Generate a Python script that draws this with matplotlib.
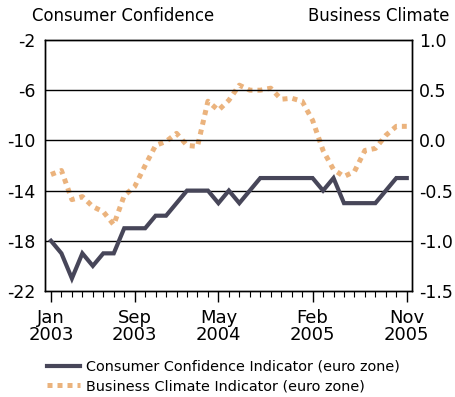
import matplotlib
matplotlib.use("Agg")
import matplotlib.pyplot as plt
from matplotlib.ticker import FixedLocator, MultipleLocator

# Monthly observations, Jan 2003 .. Nov 2005
months = list(range(35))
consumer = [-18, -19, -21, -19, -20, -19, -19, -17, -17, -17, -16, -16,
            -15, -14, -14, -14, -15, -14, -15, -14, -13, -13, -13, -13,
            -13, -13, -14, -13, -15, -15, -15, -15, -14, -13, -13]
business = [-0.34, -0.30, -0.59, -0.56, -0.66, -0.71, -0.84, -0.55, -0.46, -0.25,
            -0.05, -0.01, 0.07, -0.05, -0.06, 0.39, 0.30, 0.40, 0.55, 0.50,
            0.50, 0.52, 0.41, 0.42, 0.39, 0.20, -0.10, -0.29, -0.36, -0.31,
            -0.10, -0.08, 0.05, 0.14, 0.14]

x_tick_pos = [0, 8, 16, 25, 34]
x_tick_labels = ["Jan\n2003", "Sep\n2003", "May\n2004", "Feb\n2005", "Nov\n2005"]
left_ticks = [-2, -6, -10, -14, -18, -22]
right_ticks = [1.0, 0.5, 0.0, -0.5, -1.0, -1.5]

dark = "#474659"
orange = "#EBB37D"
fs_y = 12.5
fs_x = 13
fs_title = 11.9

plt.rcParams["font.family"] = ["DejaVu Sans"]

fig = plt.figure(figsize=(4.56, 3.97), dpi=100)
ax = fig.add_axes([45 / 456, 1 - 291 / 397, 367 / 456, 251 / 397])
ax2 = ax.twinx()

ax.set_xlim(-0.57, 34.5)
ax.set_ylim(-22, -2)
ax2.set_ylim(-1.5, 1.0)

for y in left_ticks[1:-1]:
    ax.axhline(y, color="black", lw=1.0, zorder=1)

ax.plot(months, consumer, color=dark, lw=3.0, solid_joinstyle="miter", zorder=3,
        label="Consumer Confidence Indicator (euro zone)")
ax2.plot(months, business, color=orange, lw=3.6, linestyle=(0, (1, 1)),
         dash_capstyle="butt", zorder=2,
         label="Business Climate Indicator (euro zone)")

ax.set_zorder(ax2.get_zorder() + 1)
ax.patch.set_visible(False)

ax.set_yticks(left_ticks)
ax.set_yticklabels([str(v) for v in left_ticks], fontsize=fs_y)
ax2.set_yticks(right_ticks)
ax2.set_yticklabels([f"{v:.1f}" for v in right_ticks], fontsize=fs_y)
ax.tick_params(axis="y", length=0, pad=7)
ax2.tick_params(axis="y", length=0, pad=5)

ax.xaxis.set_major_locator(FixedLocator(x_tick_pos))
ax.xaxis.set_minor_locator(MultipleLocator(1))
ax.set_xticklabels(x_tick_labels, fontsize=fs_x, linespacing=0.9)
ax.tick_params(axis="x", which="major", direction="out", length=8, width=1.0, pad=5)
ax.tick_params(axis="x", which="minor", direction="out", length=4, width=0.8)

for a in (ax, ax2):
    for s in a.spines.values():
        s.set_color("black")
        s.set_linewidth(1.0)

fig.text(32 / 456, 1 - 21 / 397, "Consumer Confidence", fontsize=fs_title, ha="left", va="baseline")
fig.text(449 / 456, 1 - 21 / 397, "Business Climate", fontsize=fs_title, ha="right", va="baseline")

h1, l1 = ax.get_legend_handles_labels()
h2, l2 = ax2.get_legend_handles_labels()
fig.legend(h1 + h2, l1 + l2, loc="upper left", bbox_to_anchor=(47 / 456, 1 - 360 / 397),
           frameon=False, fontsize=10.4, handlelength=2.3, handletextpad=0.4,
           labelspacing=0.35, borderpad=0, borderaxespad=0)

fig.savefig("out.png", dpi=100)
